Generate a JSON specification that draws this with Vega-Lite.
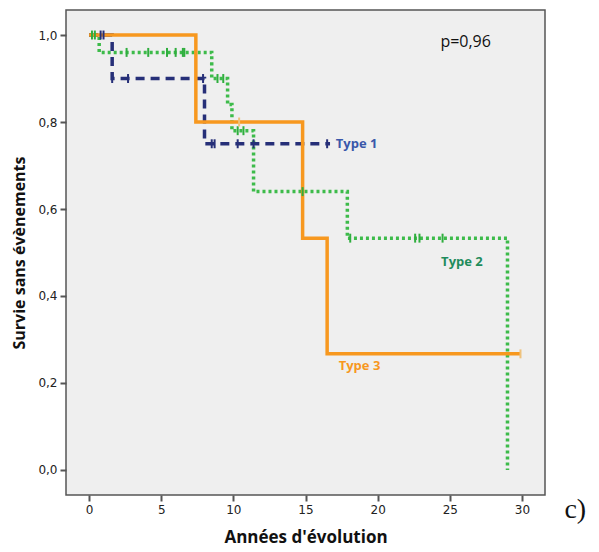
{
  "$schema": "https://vega.github.io/schema/vega-lite/v6.json",
  "width": 479,
  "height": 485,
  "autosize": "none",
  "padding": {"left": 66, "top": 10, "right": 54, "bottom": 57},
  "background": "white",
  "config": {
    "view": {"fill": "#efefef", "stroke": "#555555", "strokeWidth": 1.5},
    "axis": {"grid": false, "domain": false, "tickColor": "#555555", "tickSize": 6, "tickWidth": 2,
             "labelFont": "DejaVu Sans", "labelFontSize": 12, "labelColor": "#222222",
             "titleFont": "Open Sans", "titleFontWeight": "bold", "titleColor": "#111111"}
  },
  "datasets": {
    "curves": [
      {"type": "Type 1", "t": 0, "s": 1.0},
      {"type": "Type 1", "t": 1.6, "s": 0.9},
      {"type": "Type 1", "t": 8.0, "s": 0.75},
      {"type": "Type 1", "t": 16.7, "s": 0.75},
      {"type": "Type 2", "t": 0, "s": 1.0},
      {"type": "Type 2", "t": 0.7, "s": 0.96},
      {"type": "Type 2", "t": 8.5, "s": 0.9},
      {"type": "Type 2", "t": 9.6, "s": 0.84},
      {"type": "Type 2", "t": 9.9, "s": 0.78},
      {"type": "Type 2", "t": 11.4, "s": 0.64},
      {"type": "Type 2", "t": 17.9, "s": 0.533},
      {"type": "Type 2", "t": 29.0, "s": 0.0},
      {"type": "Type 3", "t": 0, "s": 1.0},
      {"type": "Type 3", "t": 7.4, "s": 0.8},
      {"type": "Type 3", "t": 14.8, "s": 0.533},
      {"type": "Type 3", "t": 16.5, "s": 0.267},
      {"type": "Type 3", "t": 29.9, "s": 0.267}
    ],
    "censors": [
      {"type": "Type 1", "t": 0.8, "s": 1.0},
      {"type": "Type 1", "t": 1.0, "s": 1.0},
      {"type": "Type 1", "t": 1.6, "s": 0.9},
      {"type": "Type 1", "t": 2.7, "s": 0.9},
      {"type": "Type 1", "t": 7.9, "s": 0.9},
      {"type": "Type 1", "t": 8.5, "s": 0.75},
      {"type": "Type 1", "t": 8.7, "s": 0.75},
      {"type": "Type 1", "t": 10.3, "s": 0.75},
      {"type": "Type 1", "t": 11.4, "s": 0.75},
      {"type": "Type 1", "t": 16.5, "s": 0.75},
      {"type": "Type 2", "t": 0.2, "s": 1.0},
      {"type": "Type 2", "t": 0.4, "s": 1.0},
      {"type": "Type 2", "t": 2.6, "s": 0.96},
      {"type": "Type 2", "t": 4.1, "s": 0.96},
      {"type": "Type 2", "t": 5.4, "s": 0.96},
      {"type": "Type 2", "t": 6.0, "s": 0.96},
      {"type": "Type 2", "t": 6.5, "s": 0.96},
      {"type": "Type 2", "t": 6.6, "s": 0.96},
      {"type": "Type 2", "t": 8.9, "s": 0.9},
      {"type": "Type 2", "t": 9.3, "s": 0.9},
      {"type": "Type 2", "t": 10.3, "s": 0.78},
      {"type": "Type 2", "t": 10.7, "s": 0.78},
      {"type": "Type 2", "t": 14.8, "s": 0.64},
      {"type": "Type 2", "t": 18.1, "s": 0.533},
      {"type": "Type 2", "t": 22.6, "s": 0.533},
      {"type": "Type 2", "t": 22.9, "s": 0.533},
      {"type": "Type 2", "t": 24.5, "s": 0.533},
      {"type": "Type 3", "t": 10.4, "s": 0.8},
      {"type": "Type 3", "t": 29.9, "s": 0.267}
    ],
    "labels": [
      {"type": "Type 1", "t": 17.1, "s": 0.75, "label": "Type 1"},
      {"type": "Type 2", "t": 24.4, "s": 0.478, "label": "Type 2"},
      {"type": "Type 3", "t": 17.3, "s": 0.239, "label": "Type 3"}
    ],
    "notes": [
      {"t": 26.1, "s": 0.985, "label": "p=0,96"}
    ],
    "panel": [
      {"t": 33.7, "s": -0.093, "label": "c)"}
    ]
  },
  "layer": [
    {
      "data": {"name": "curves"},
      "transform": [{"filter": "datum.type === 'Type 2'"}],
      "mark": {"type": "line", "interpolate": "step-after", "color": "#3dbb4a", "strokeWidth": 3.5, "strokeDash": [3, 3], "strokeCap": "butt"},
      "encoding": {
        "x": {"field": "t", "type": "quantitative", "scale": {"domain": [-1.6, 31.6], "nice": false, "zero": false},
              "axis": {"values": [0, 5, 10, 15, 20, 25, 30], "title": "Années d'évolution", "titleFontSize": 17, "titlePadding": 14, "labelPadding": 3}},
        "y": {"field": "s", "type": "quantitative", "scale": {"domain": [-0.0575, 1.0575], "nice": false, "zero": false},
              "axis": {"values": [0, 0.2, 0.4, 0.6, 0.8, 1.0], "labelExpr": "replace(format(datum.value, '.1f'), '.', ',')", "title": "Survie sans évènements", "titleFontSize": 16, "titlePadding": 10, "labelPadding": 3}}
      }
    },
    {
      "data": {"name": "curves"},
      "transform": [{"filter": "datum.type === 'Type 1'"}],
      "mark": {"type": "line", "interpolate": "step-after", "color": "#262f78", "strokeWidth": 3.5, "strokeDash": [9, 6], "strokeCap": "butt"},
      "encoding": {
        "x": {"field": "t", "type": "quantitative"},
        "y": {"field": "s", "type": "quantitative"}
      }
    },
    {
      "data": {"name": "curves"},
      "transform": [{"filter": "datum.type === 'Type 3'"}],
      "mark": {"type": "line", "interpolate": "step-after", "color": "#f7981f", "strokeWidth": 3.5},
      "encoding": {
        "x": {"field": "t", "type": "quantitative"},
        "y": {"field": "s", "type": "quantitative"}
      }
    },
    {
      "data": {"name": "censors"},
      "mark": {"type": "point", "shape": "M0,-1L0,1", "size": 80, "strokeWidth": 2, "filled": false, "opacity": 1},
      "encoding": {
        "x": {"field": "t", "type": "quantitative"},
        "y": {"field": "s", "type": "quantitative"},
        "color": {"field": "type", "type": "nominal", "legend": null,
                  "scale": {"domain": ["Type 1", "Type 2", "Type 3"], "range": ["#262f78", "#2fae3e", "#efc27c"]}}
      }
    },
    {
      "data": {"name": "labels"},
      "mark": {"type": "text", "align": "left", "baseline": "middle", "font": "Open Sans", "fontSize": 13, "fontWeight": "bold"},
      "encoding": {
        "x": {"field": "t", "type": "quantitative"},
        "y": {"field": "s", "type": "quantitative"},
        "text": {"field": "label"},
        "color": {"field": "type", "type": "nominal", "legend": null,
                  "scale": {"domain": ["Type 1", "Type 2", "Type 3"], "range": ["#3a58aa", "#1f8c5c", "#f7981f"]}}
      }
    },
    {
      "data": {"name": "notes"},
      "mark": {"type": "text", "align": "center", "baseline": "middle", "font": "Open Sans", "fontSize": 16, "color": "#111111"},
      "encoding": {
        "x": {"field": "t", "type": "quantitative"},
        "y": {"field": "s", "type": "quantitative"},
        "text": {"field": "label"}
      }
    },
    {
      "data": {"name": "panel"},
      "mark": {"type": "text", "align": "center", "baseline": "middle", "font": "Liberation Serif", "fontSize": 28, "color": "#111111", "clip": false},
      "encoding": {
        "x": {"field": "t", "type": "quantitative"},
        "y": {"field": "s", "type": "quantitative"},
        "text": {"field": "label"}
      }
    }
  ],
  "resolve": {"scale": {"color": "independent"}}
}
